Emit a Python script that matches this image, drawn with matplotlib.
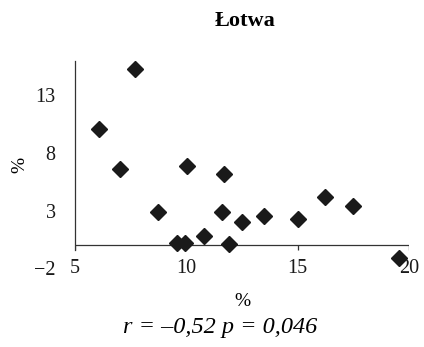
import matplotlib.pyplot as plt

plt.rcParams['font.family'] = ['Liberation Serif', 'DejaVu Serif']

x = [7.69, 6.09, 7.02, 10.01, 8.71, 9.57, 9.95, 10.79, 11.69, 11.62, 11.92,
     12.5, 13.5, 15.01, 16.23, 17.48, 19.53]
y = [15.3, 10.1, 6.6, 6.9, 2.9, 0.15, 0.2, 0.8, 6.2, 2.9, 0.1,
     2.0, 2.5, 2.3, 4.2, 3.4, -1.15]
xticks = [5, 10, 15, 20]
yticks = [-2, 3, 8, 13]

fig = plt.figure(figsize=(4.24, 3.47), dpi=100)
ax = fig.add_axes([75/424, 1-268/347, 334/424, 207/347])

ax.plot(x, y, 'D', color='#1a1a1a', ms=7.8, clip_on=False, zorder=3)

ax.set_xlim(5, 20)
ax.set_ylim(-2, 16)

# x axis line crosses at y=0, labels stay at the bottom
ax.axhline(0, color='#333333', lw=0.9, zorder=2)
ax.vlines(xticks, -0.45, 0, color='#333333', lw=0.9, zorder=2)

for s in ['top', 'right', 'bottom']:
    ax.spines[s].set_visible(False)
ax.spines['left'].set_bounds(-0.45, 16)
ax.spines['left'].set_color('#333333')
ax.spines['left'].set_linewidth(0.9)

ax.set_xticks(xticks)
ax.set_yticks(yticks)
ax.tick_params(axis='x', length=0, pad=-6.5, labelsize=14.5, colors='#1a1a1a')
ax.tick_params(axis='y', length=0, pad=14, labelsize=14.5, colors='#1a1a1a')
ax.set_yticklabels(['\u22122', '3', '8', '13'])

ax.set_ylabel('%', fontsize=14, labelpad=4)
ax.set_xlabel('%', fontsize=14, labelpad=11)
fig.text(0.578, 0.94, '\u0141otwa', ha='center', va='center', fontsize=16, fontweight='bold')
fig.text(0.52, 0.055, 'r = \u20130,52 p = 0,046', ha='center', va='center',
         fontsize=17.5, style='italic')

fig.savefig('out.png', dpi=100)
